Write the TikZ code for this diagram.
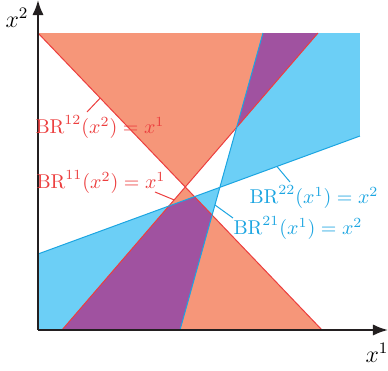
\documentclass[tikz,border=0pt]{standalone}
\usepackage{amsmath}
\usetikzlibrary{arrows.meta,calc}
\definecolor{ConeOrange}{RGB}{246,150,121}
\definecolor{ConeBlue}{RGB}{108,207,246}
\definecolor{OverlapPurple}{RGB}{160,82,160}
\definecolor{LineRed}{RGB}{236,62,62}
\definecolor{LineBlue}{RGB}{28,165,225}
\definecolor{AxisBlack}{RGB}{35,31,32}

\begin{document}
\begin{tikzpicture}[x=0.5pt,y=0.5pt,>=Latex,
    brline/.style={line width=0.5pt},
    leader/.style={line width=0.5pt}]
  \useasboundingbox (0,0) rectangle (388,371);
  % best-response lines
  \coordinate (a1) at (38,338);  \coordinate (a2) at (322,41);
  \coordinate (b1) at (318,338); \coordinate (b2) at (62,41);
  \coordinate (c1) at (180,41);  \coordinate (c2) at (263,338);
  \coordinate (d1) at (38,117);  \coordinate (d2) at (360,235);
  \coordinate (ab) at (intersection of a1--a2 and b1--b2);
  \coordinate (cd) at (intersection of c1--c2 and d1--d2);
  % regions
  \fill[ConeOrange] (a1)--(b1)--(ab)--cycle (b2)--(a2)--(ab)--cycle;
  \fill[ConeBlue] (c2)--(360,338)--(d2)--(cd)--cycle
    (d1)--(cd)--(c1)--(38,41)--cycle;
  \begin{scope}
    \clip (a1)--(b1)--(ab)--cycle (b2)--(a2)--(ab)--cycle;
    \fill[OverlapPurple] (c2)--(360,338)--(d2)--(cd)--cycle
      (d1)--(cd)--(c1)--(38,41)--cycle;
  \end{scope}
  \draw[LineRed,brline] (a1)--(a2) (b1)--(b2);
  \draw[LineBlue,brline] (c1)--(c2) (d1)--(d2);
  % axes
  \coordinate (O) at (38,41);
  \coordinate (xend) at (388,41);
  \coordinate (yend) at (38,371);
  \draw[->,AxisBlack,line width=1pt] (O)--(xend);
  \draw[->,AxisBlack,line width=1pt] (O)--(yend);
  \node[font=\large] (xlab) at (377,18) {$x^1$};
  \node[font=\large] (ylab) at (17,353) {$x^2$};
  % labels
  \node[LineRed] (l12) at (100,244) {$\mathrm{BR}^{12}(x^2)=x^1$};
  \coordinate (p12) at ($(a1)!0.219!(a2)$);
  \coordinate (q12) at (87,259);
  \draw[LineRed,leader] (p12)--(q12);
  \node[LineRed] (l11) at (101,189) {$\mathrm{BR}^{11}(x^2)=x^1$};
  \coordinate (p11) at ($(b1)!0.562!(b2)$);
  \coordinate (q11) at (155,179);
  \draw[LineRed,leader] (p11)--(q11);
  \node[LineBlue] (l22) at (314,174) {$\mathrm{BR}^{22}(x^1)=x^2$};
  \coordinate (p22) at ($(d1)!0.742!(d2)$);
  \coordinate (q22) at (290,189);
  \draw[LineBlue,leader] (p22)--(q22);
  \node[LineBlue] (l21) at (298,143) {$\mathrm{BR}^{21}(x^1)=x^2$};
  \coordinate (p21) at ($(c1)!0.421!(c2)$);
  \coordinate (q21) at (233,153);
  \draw[LineBlue,leader] (p21)--(q21);
\end{tikzpicture}
\end{document}
